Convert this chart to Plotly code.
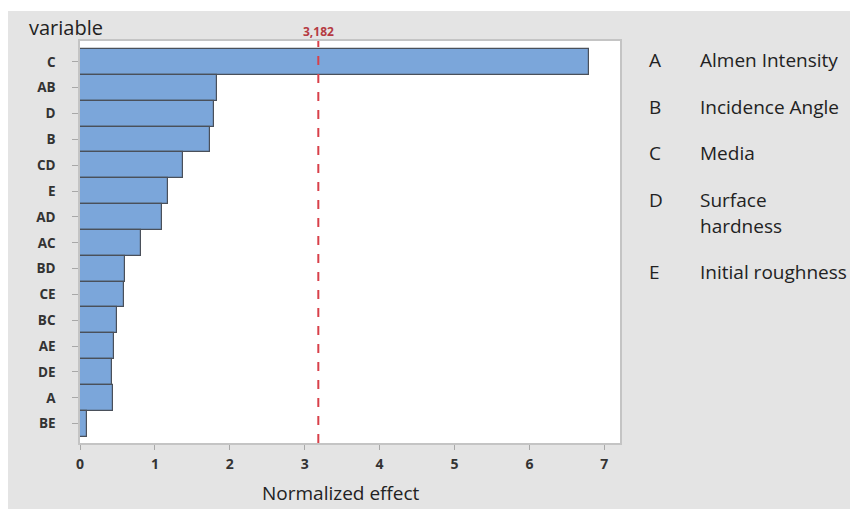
import plotly.graph_objects as go

# ---- data ----
terms = ["C", "AB", "D", "B", "CD", "E", "AD", "AC", "BD", "CE", "BC", "AE", "DE", "A", "BE"]
effects = [6.79, 1.83, 1.79, 1.74, 1.37, 1.18, 1.10, 0.81, 0.60, 0.59, 0.49, 0.46, 0.43, 0.44, 0.09]
critical_value = 3.182
critical_label = "3,182"
x_ticks = [0, 1, 2, 3, 4, 5, 6, 7]
factor_codes = ["A", "B", "C", "D", "E"]
factor_names = ["Almen Intensity", "Incidence Angle", "Media", "Surface<br>hardness", "Initial roughness"]

OFF = 8  # page body margin
W, H = 858 - OFF, 509 - OFF
L, R, T, B = 80 - OFF, 620 - OFF, 41 - OFF, 443 - OFF  # plot area pixel box (figure coords)


def px_x(p):
    # p given in screenshot pixels
    return (p - OFF - L) / (R - L)


def px_y(p):
    return (B - (p - OFF)) / (B - T)


fig = go.Figure()
fig.add_trace(go.Bar(
    x=effects, y=terms, orientation="h",
    marker=dict(color="#7BA6DA", line=dict(color="#4A505A", width=1.2)),
    width=1.0, hoverinfo="x+y",
))

fig.add_shape(type="line", xref="x", yref="paper", x0=critical_value, x1=critical_value,
              y0=0, y1=1, line=dict(color="#D8404A", width=2, dash="dash"))
fig.add_annotation(x=critical_value, xref="x", y=px_y(31), yref="paper", text=critical_label,
                   showarrow=False, font=dict(family="Open Sans", size=12, color="#B53A42", weight="bold"),
                   xanchor="center", yanchor="middle")

# thin white strip at the top of the figure
fig.add_shape(type="rect", xref="paper", yref="paper", x0=px_x(0), x1=px_x(900), y0=px_y(11), y1=px_y(0),
              fillcolor="white", line=dict(width=0), layer="below")

fig.add_annotation(x=px_x(27), y=px_y(27), xref="paper", yref="paper", text="variable",
                   showarrow=False, xanchor="left", yanchor="middle",
                   font=dict(family="Open Sans", size=20, color="#222222"))

fig.add_annotation(x=px_x(341), y=px_y(493), xref="paper", yref="paper", text="Normalized effect",
                   showarrow=False, xanchor="center", yanchor="middle",
                   font=dict(family="Open Sans", size=19, color="#222222"))

leg_y = [60, 107, 153, 200, 272]
for code, name, yy in zip(factor_codes, factor_names, leg_y):
    fig.add_annotation(x=px_x(647), y=px_y(yy), xref="paper", yref="paper", text=code,
                       showarrow=False, xanchor="left", yanchor="middle",
                       font=dict(family="Open Sans", size=19, color="#222222"))
    for k, line in enumerate(name.split("<br>")):
        fig.add_annotation(x=px_x(698), y=px_y(yy + 26 * k), xref="paper", yref="paper", text=line,
                           showarrow=False, xanchor="left", yanchor="middle", align="left",
                           font=dict(family="Open Sans", size=19, color="#222222"))

fig.update_layout(
    width=W, height=H,
    margin=dict(l=L, r=W - R, t=T, b=H - B, pad=0),
    paper_bgcolor="#E4E4E4", plot_bgcolor="white",
    bargap=0, showlegend=False,
    font=dict(family="Open Sans", color="#333333"),
)
fig.update_xaxes(range=[0, 7.21], tickvals=x_ticks, ticks="outside", ticklen=5, tickcolor="#A8A8A8",
                 showgrid=False, zeroline=False, showline=True, linecolor="#C4C4C4", linewidth=1.5, mirror=True,
                 tickfont=dict(family="Open Sans", size=14, color="#333333", weight="bold"),
                 ticklabelstandoff=2)
fig.update_yaxes(type="category", categoryorder="array", categoryarray=terms, range=[14.75, -0.81],
                 ticks="outside", ticklen=6, tickcolor="#A8A8A8",
                 showgrid=False, zeroline=False, showline=True, linecolor="#C4C4C4", linewidth=1.5, mirror=True,
                 tickfont=dict(family="Open Sans", size=13.5, color="#333333", weight="bold"),
                 ticklabelstandoff=14)

fig.write_html("out.html")
